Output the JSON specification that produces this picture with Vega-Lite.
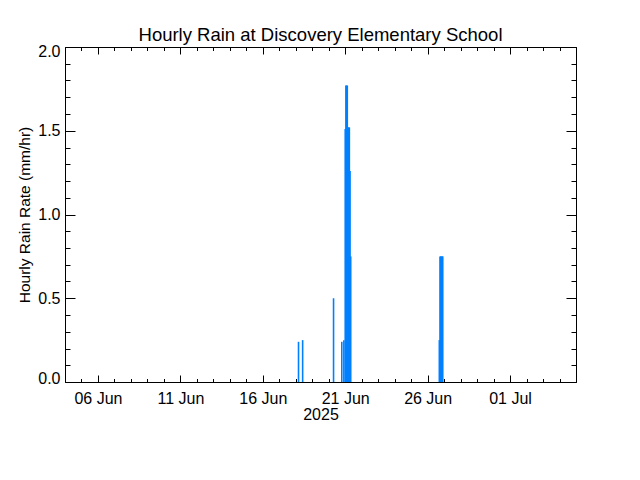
{
  "$schema": "https://vega.github.io/schema/vega-lite/v6.json",
  "width": 511,
  "height": 335,
  "autosize": "none",
  "padding": {"left": 65, "top": 47, "right": 64, "bottom": 98},
  "background": "white",
  "title": {"text": "Hourly Rain at Discovery Elementary School", "font": "Liberation Sans", "fontSize": 18.5, "fontWeight": "normal", "color": "black", "anchor": "middle", "baseline": "alphabetic", "offset": 5, "dy": 21},
  "data": {"values": [
    {"time": "2025-06-18T04:00:00", "rain": 0.24},
    {"time": "2025-06-18T10:00:00", "rain": 0.25},
    {"time": "2025-06-20T07:00:00", "rain": 0.50},
    {"time": "2025-06-20T19:00:00", "rain": 0.24},
    {"time": "2025-06-20T22:00:00", "rain": 0.25},
    {"time": "2025-06-21T00:00:00", "rain": 1.51},
    {"time": "2025-06-21T01:00:00", "rain": 1.77},
    {"time": "2025-06-21T02:00:00", "rain": 1.77},
    {"time": "2025-06-21T03:00:00", "rain": 1.77},
    {"time": "2025-06-21T04:00:00", "rain": 1.52},
    {"time": "2025-06-21T05:00:00", "rain": 1.52},
    {"time": "2025-06-21T06:00:00", "rain": 1.52},
    {"time": "2025-06-21T07:00:00", "rain": 1.26},
    {"time": "2025-06-21T08:00:00", "rain": 0.75},
    {"time": "2025-06-26T17:00:00", "rain": 0.25},
    {"time": "2025-06-26T18:00:00", "rain": 0.75},
    {"time": "2025-06-26T19:00:00", "rain": 0.75},
    {"time": "2025-06-26T20:00:00", "rain": 0.75},
    {"time": "2025-06-26T21:00:00", "rain": 0.75},
    {"time": "2025-06-26T22:00:00", "rain": 0.75}
  ]},
  "layer": [
    {
      "mark": {"type": "rule", "color": "#0080ff", "strokeWidth": 1.6},
      "encoding": {
        "x": {"field": "time", "type": "temporal",
          "scale": {"domain": [{"year": 2025, "month": 6, "date": 4}, {"year": 2025, "month": 7, "date": 5}]},
          "axis": {"orient": "bottom", "ticks": false, "values": [{"year": 2025, "month": 6, "date": 6}, {"year": 2025, "month": 6, "date": 11}, {"year": 2025, "month": 6, "date": 16}, {"year": 2025, "month": 6, "date": 21}, {"year": 2025, "month": 6, "date": 26}, {"year": 2025, "month": 7, "date": 1}],
            "format": "%d %b", "labelPadding": 8, "title": "2025", "titleY": 24, "titleBaseline": "top"}},
        "y": {"field": "rain", "type": "quantitative",
          "scale": {"domain": [0, 2], "nice": false},
          "axis": {"orient": "left", "ticks": false, "values": [0, 0.5, 1, 1.5, 2], "format": ".1f", "labelPadding": 5, "labelFlush": true, "labelFlushOffset": 4,
            "title": "Hourly Rain Rate (mm/hr)", "titleX": -33, "titleFontSize": 15.5}},
        "y2": {"datum": 0}
      }
    },
    {
      "mark": {"type": "point", "opacity": 0},
      "encoding": {
        "x": {"field": "time", "type": "temporal",
          "axis": {"orient": "bottom", "labels": false, "title": null, "tickSize": -7, "values": [{"year": 2025, "month": 6, "date": 6}, {"year": 2025, "month": 6, "date": 11}, {"year": 2025, "month": 6, "date": 16}, {"year": 2025, "month": 6, "date": 21}, {"year": 2025, "month": 6, "date": 26}, {"year": 2025, "month": 7, "date": 1}]}},
        "y": {"field": "rain", "type": "quantitative",
          "axis": {"orient": "left", "labels": false, "title": null, "tickSize": -10, "values": [0, 0.5, 1, 1.5, 2]}}
      }
    },
    {
      "mark": {"type": "point", "opacity": 0},
      "encoding": {
        "x": {"field": "time", "type": "temporal",
          "axis": {"orient": "bottom", "labels": false, "title": null, "tickSize": -3.5, "tickCount": {"interval": "day", "step": 1}}},
        "y": {"field": "rain", "type": "quantitative",
          "axis": {"orient": "left", "labels": false, "title": null, "tickSize": -5, "values": [0, 0.1, 0.2, 0.3, 0.4, 0.5, 0.6, 0.7, 0.8, 0.9, 1, 1.1, 1.2, 1.3, 1.4, 1.5, 1.6, 1.7, 1.8, 1.9, 2]}}
      }
    },
    {
      "mark": {"type": "point", "opacity": 0},
      "encoding": {
        "x": {"field": "time", "type": "temporal",
          "axis": {"orient": "top", "labels": false, "title": null, "tickSize": -7, "values": [{"year": 2025, "month": 6, "date": 6}, {"year": 2025, "month": 6, "date": 11}, {"year": 2025, "month": 6, "date": 16}, {"year": 2025, "month": 6, "date": 21}, {"year": 2025, "month": 6, "date": 26}, {"year": 2025, "month": 7, "date": 1}]}},
        "y": {"field": "rain", "type": "quantitative",
          "axis": {"orient": "right", "labels": false, "title": null, "tickSize": -10, "values": [0, 0.5, 1, 1.5, 2]}}
      }
    },
    {
      "mark": {"type": "point", "opacity": 0},
      "encoding": {
        "x": {"field": "time", "type": "temporal",
          "axis": {"orient": "top", "labels": false, "title": null, "tickSize": -3.5, "tickCount": {"interval": "day", "step": 1}}},
        "y": {"field": "rain", "type": "quantitative",
          "axis": {"orient": "right", "labels": false, "title": null, "tickSize": -5, "values": [0, 0.1, 0.2, 0.3, 0.4, 0.5, 0.6, 0.7, 0.8, 0.9, 1, 1.1, 1.2, 1.3, 1.4, 1.5, 1.6, 1.7, 1.8, 1.9, 2]}}
      }
    }
  ],
  "resolve": {"axis": {"x": "independent", "y": "independent"}},
  "config": {
    "view": {"stroke": "black", "strokeWidth": 1},
    "axis": {"domain": false, "grid": false, "tickColor": "black", "tickWidth": 1, "labelColor": "black", "titleColor": "black",
      "labelFont": "Liberation Sans", "labelFontSize": 16, "titleFont": "Liberation Sans", "titleFontSize": 16, "titleFontWeight": "normal"}
  }
}
